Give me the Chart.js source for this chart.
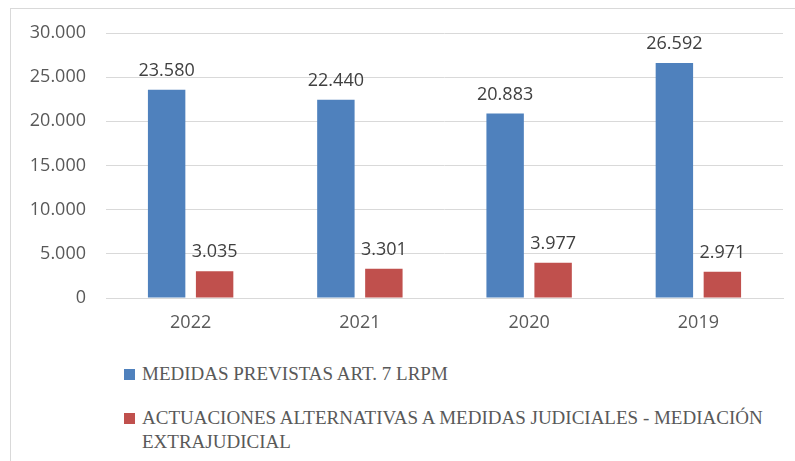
<!DOCTYPE html>
<html>
<head>
<meta charset="utf-8">
<script src="https://cdn.jsdelivr.net/npm/chart.js@4.4.1/dist/chart.umd.min.js"></script>
<style>
    html, body { margin: 0; padding: 0; background: #fff; }
    #wrap { position: relative; width: 795px; height: 461px; overflow: hidden; }
    #frame { position: absolute; left: 10px; top: 8px; width: 800px; height: 470px;
             border-top: 1px solid #d9d9d9; border-left: 1px solid #d9d9d9; }
    #chartBox { position: absolute; left: 0; top: 0; width: 795px; height: 345px; }
    #legend { position: absolute; left: 124px; top: 362px; width: 660px;
              font-family: "Liberation Serif", serif; font-size: 19px; color: #595959; }
    .item { display: flex; align-items: flex-start; line-height: 24px; margin-bottom: 20px; }
    .box { flex: 0 0 11px; height: 11px; margin-top: 7px; margin-right: 7px; }
</style>
</head>
<body>
<div id="wrap">
    <div id="frame"></div>
    <div id="chartBox"><canvas id="chart"></canvas></div>
    <div id="legend"></div>
</div>
<script>
const years = ['2022', '2021', '2020', '2019'];
const medidas = [23580, 22440, 20883, 26592];
const actuaciones = [3035, 3301, 3977, 2971];
const yTicks = [0, 5000, 10000, 15000, 20000, 25000, 30000];

const seriesNames = [
    'MEDIDAS PREVISTAS ART. 7 LRPM',
    'ACTUACIONES ALTERNATIVAS A MEDIDAS JUDICIALES - MEDIACIÓN EXTRAJUDICIAL',
];

// spanish style thousands: 23.580, 3.035
function fmt(n) {
    return String(n).replace(/\B(?=(\d{3})+(?!\d))/g, '.');
}

const numFont = '"Open Sans", sans-serif';

const valueLabels = {
    id: 'valueLabels',
    afterDatasetsDraw(chart) {
        const ctx = chart.ctx;
        ctx.save();
        ctx.font = '18px ' + numFont;
        ctx.fillStyle = '#404040';
        ctx.textAlign = 'center';
        ctx.textBaseline = 'alphabetic';
        chart.data.datasets.forEach((ds, i) => {
            chart.getDatasetMeta(i).data.forEach((bar, j) => {
                ctx.fillText(fmt(ds.data[j]), bar.x, bar.y - 14);
            });
        });
        ctx.restore();
    },
};

const chart = new Chart(document.getElementById('chart'), {
    type: 'bar',
    data: {
        labels: years,
        datasets: [
            {
                label: seriesNames[0],
                data: medidas,
                backgroundColor: '#4f81bd',
                barPercentage: 0.78,
                categoryPercentage: 0.567,
            },
            {
                label: seriesNames[1],
                data: actuaciones,
                backgroundColor: '#c0504d',
                barPercentage: 0.78,
                categoryPercentage: 0.567,
            },
        ],
    },
    options: {
        responsive: true,
        maintainAspectRatio: false,
        animation: false,
        layout: {
            padding: { left: 0, right: 12, top: 33, bottom: 0 },
        },
        plugins: {
            legend: { display: false },
            tooltip: { enabled: false },
        },
        scales: {
            x: {
                grid: { display: false, drawTicks: false },
                border: { display: true, color: '#d9d9d9' },
                ticks: {
                    color: '#595959',
                    font: { family: numFont, size: 18 },
                    padding: 14,
                },
                afterFit(scale) {
                    scale.height = 47;
                },
            },
            y: {
                min: 0,
                max: 30000,
                afterBuildTicks(scale) {
                    scale.ticks = yTicks.map(v => ({ value: v }));
                },
                grid: { color: '#d9d9d9', drawTicks: false },
                border: { display: false },
                ticks: {
                    color: '#595959',
                    font: { family: numFont, size: 18 },
                    padding: 20,
                    callback: v => fmt(v),
                },
                afterFit(scale) {
                    scale.width = 106;
                },
            },
        },
    },
    plugins: [valueLabels],
});

// html legend so the long label can wrap
const legendEl = document.getElementById('legend');
chart.data.datasets.forEach(ds => {
    const item = document.createElement('div');
    item.className = 'item';
    const box = document.createElement('span');
    box.className = 'box';
    box.style.background = ds.backgroundColor;
    const text = document.createElement('span');
    text.textContent = ds.label;
    item.appendChild(box);
    item.appendChild(text);
    legendEl.appendChild(item);
});
</script>
</body>
</html>
